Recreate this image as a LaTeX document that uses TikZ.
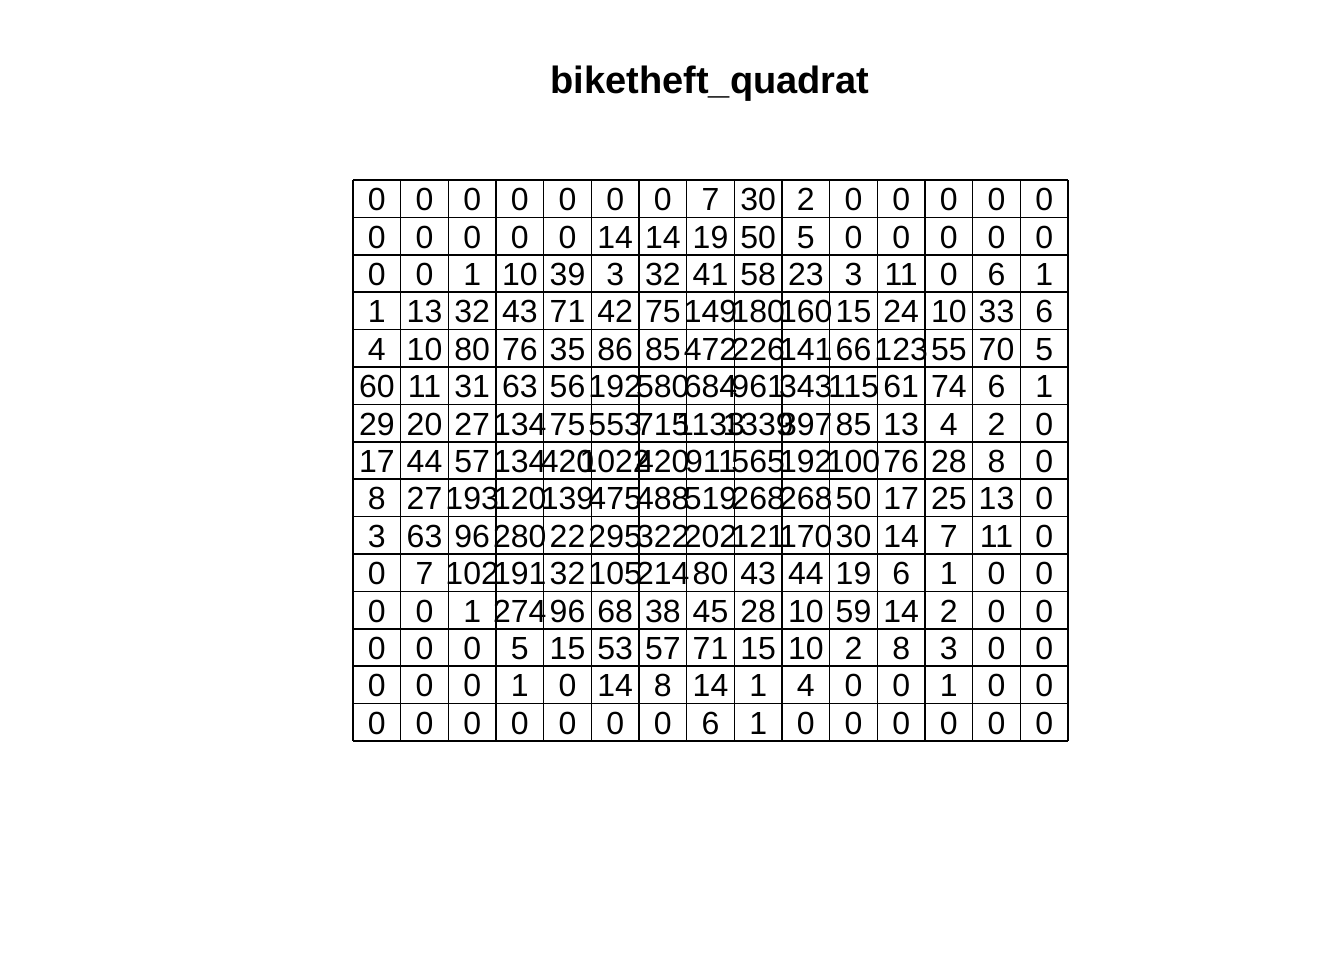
\documentclass[tikz,border=0pt]{standalone}
\usepackage{fontspec}
\setmainfont{Liberation Sans}
\tikzset{
  qcount/.style={font=\fontsize{16}{17}\selectfont, inner sep=0pt, anchor=base},
  tile/.style={line width=0.75pt},
}
\begin{document}
\begin{tikzpicture}[x=0.5pt,y=-0.5pt]
\useasboundingbox (0,0) rectangle (1344,960);
\node[font=\bfseries\fontsize{19}{20}\selectfont, anchor=base] (title) at (710,93) {biketheft\_quadrat};
% tiles
\foreach \i in {0,...,15} {
  \draw[tile] (353+47.667*\i,180) -- (353+47.667*\i,741);
  \draw[tile] (353,180+37.4*\i) -- (1068,180+37.4*\i);
}
% counts, row by row (base line of each row)
\foreach \v [count=\c] in {0,0,0,0,0,0,0,7,30,2,0,0,0,0,0} \node[qcount] (q1c\c) at (329.17+47.667*\c,210.7) {\v};
\foreach \v [count=\c] in {0,0,0,0,0,14,14,19,50,5,0,0,0,0,0} \node[qcount] (q2c\c) at (329.17+47.667*\c,248.1) {\v};
\foreach \v [count=\c] in {0,0,1,10,39,3,32,41,58,23,3,11,0,6,1} \node[qcount] (q3c\c) at (329.17+47.667*\c,285.5) {\v};
\foreach \v [count=\c] in {1,13,32,43,71,42,75,149,180,160,15,24,10,33,6} \node[qcount] (q4c\c) at (329.17+47.667*\c,322.9) {\v};
\foreach \v [count=\c] in {4,10,80,76,35,86,85,472,226,141,66,123,55,70,5} \node[qcount] (q5c\c) at (329.17+47.667*\c,360.3) {\v};
\foreach \v [count=\c] in {60,11,31,63,56,192,580,684,961,343,115,61,74,6,1} \node[qcount] (q6c\c) at (329.17+47.667*\c,397.7) {\v};
\foreach \v [count=\c] in {29,20,27,134,75,553,715,1133,1339,397,85,13,4,2,0} \node[qcount] (q7c\c) at (329.17+47.667*\c,435.1) {\v};
\foreach \v [count=\c] in {17,44,57,134,420,1022,420,911,565,192,100,76,28,8,0} \node[qcount] (q8c\c) at (329.17+47.667*\c,472.5) {\v};
\foreach \v [count=\c] in {8,27,193,120,139,475,488,519,268,268,50,17,25,13,0} \node[qcount] (q9c\c) at (329.17+47.667*\c,509.9) {\v};
\foreach \v [count=\c] in {3,63,96,280,22,295,322,202,121,170,30,14,7,11,0} \node[qcount] (q10c\c) at (329.17+47.667*\c,547.3) {\v};
\foreach \v [count=\c] in {0,7,102,191,32,105,214,80,43,44,19,6,1,0,0} \node[qcount] (q11c\c) at (329.17+47.667*\c,584.7) {\v};
\foreach \v [count=\c] in {0,0,1,274,96,68,38,45,28,10,59,14,2,0,0} \node[qcount] (q12c\c) at (329.17+47.667*\c,622.1) {\v};
\foreach \v [count=\c] in {0,0,0,5,15,53,57,71,15,10,2,8,3,0,0} \node[qcount] (q13c\c) at (329.17+47.667*\c,659.5) {\v};
\foreach \v [count=\c] in {0,0,0,1,0,14,8,14,1,4,0,0,1,0,0} \node[qcount] (q14c\c) at (329.17+47.667*\c,696.9) {\v};
\foreach \v [count=\c] in {0,0,0,0,0,0,0,6,1,0,0,0,0,0,0} \node[qcount] (q15c\c) at (329.17+47.667*\c,734.3) {\v};
\end{tikzpicture}
\end{document}
